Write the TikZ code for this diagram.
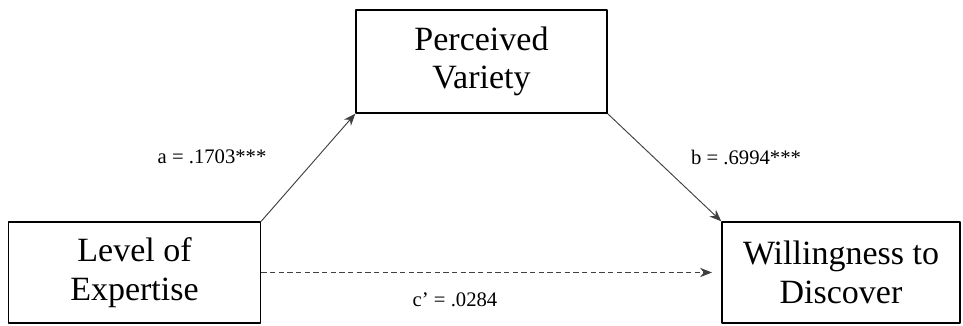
\documentclass[tikz,border=0pt]{standalone}
\usepackage{fontspec}
\setmainfont{Liberation Serif}
\usetikzlibrary{shadows,arrows.meta}

\tikzset{
	varbox/.style={draw, line width=1pt, align=center, font=\fontsize{25.5}{29}\selectfont, inner sep=0pt},
	path/.style={->, draw=black!75, line width=0.7pt},
	coef/.style={font=\fontsize{15.5}{17}\selectfont}
}

\begin{document}
\begin{tikzpicture}[>={Stealth[length=9pt, width=7pt]}, line join=round, x=0.75pt, y=0.75pt]
	\useasboundingbox (0, 0) rectangle (963, 325);

	% Các biến
	\node[varbox, minimum width=251*0.75pt, minimum height=103*0.75pt,
		drop shadow={shadow xshift=1pt, shadow yshift=-1pt, fill=black, opacity=1}, fill=white]
		(var) at (481.5, 263.5) {Perceived\\Variety};
	\node[varbox, minimum width=252*0.75pt, minimum height=101*0.75pt] (exp) at (134.5, 52.5) {Level of\\Expertise};
	\node[varbox, minimum width=238*0.75pt, minimum height=101*0.75pt] (wil) at (841, 52.5) {Willingness to\\Discover};

	% Các đường tác động
	\coordinate (cend) at ([xshift=-7pt]wil.west);
	\draw[path] (exp.north east) -- (var.south west);
	\draw[path] (var.south east) -- (wil.north west);
	\draw[path, dash pattern=on 4pt off 2.5pt] (exp.east) -- (cend);

	% Hệ số
	\node[coef] (ca) at (212, 168) {a = .1703***};
	\node[coef] (cb) at (746, 168) {b = .6994***};
	\node[coef] (cc) at (455, 25) {c’ = .0284};
\end{tikzpicture}
\end{document}
